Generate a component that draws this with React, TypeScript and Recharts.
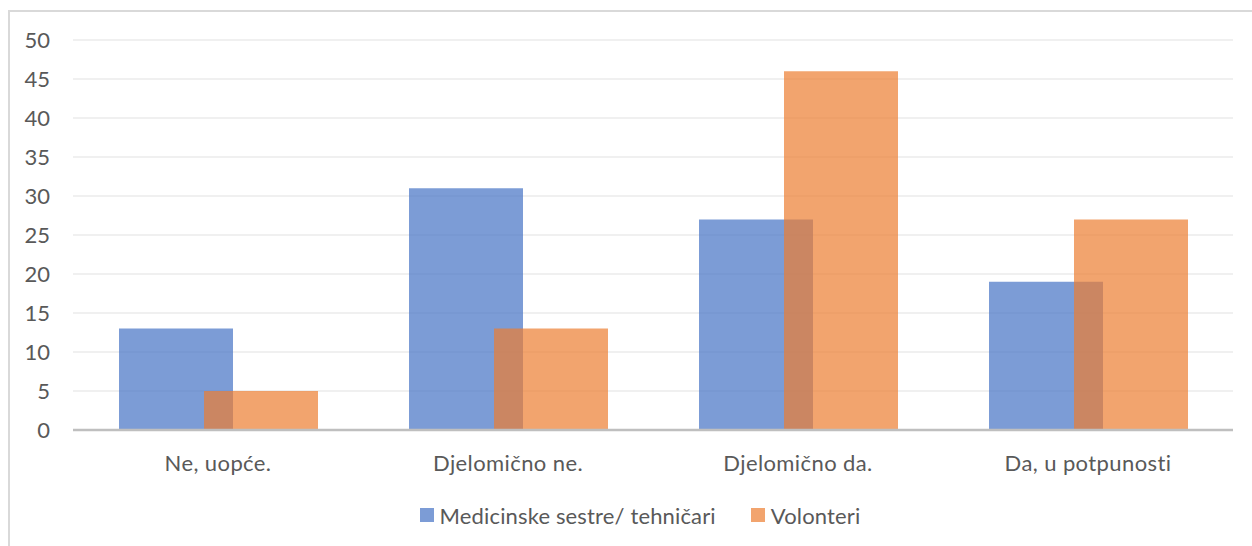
import { BarChart, Bar, XAxis, YAxis, CartesianGrid, Legend } from 'recharts';

const categories = ['Ne, uopće.', 'Djelomično ne.', 'Djelomično da.', 'Da, u potpunosti'];
const nurses = [13, 31, 27, 19];
const volunteers = [5, 13, 46, 27];
const yTicks = [0, 5, 10, 15, 20, 25, 30, 35, 40, 45, 50];

const SERIES = [
  { key: 'nurses', name: 'Medicinske sestre/ tehničari', color: '#4472C4' },
  { key: 'volunteers', name: 'Volonteri', color: '#ED7D31' },
];

const data = categories.map((c, i) => ({
  category: c,
  nurses: nurses[i],
  volunteers: volunteers[i],
}));

const FONT = 'Lato, "Open Sans", sans-serif';
const TEXT = '#595959';
const FS = 22;
const LS = '0.4px';

function LegendContent() {
  return (
    <div style={{ display: 'flex', justifyContent: 'center', alignItems: 'center', gap: '35px', height: '24px', paddingLeft: '28px', fontFamily: FONT, fontSize: `${FS}px`, letterSpacing: '0.15px', color: TEXT }}>
      {SERIES.map((s) => (
        <div key={s.key} style={{ display: 'flex', alignItems: 'center', gap: '6px' }}>
          <span style={{ display: 'inline-block', width: '14px', height: '14px', background: s.color, opacity: 0.7 }} />
          <span>{s.name}</span>
        </div>
      ))}
    </div>
  );
}

export default function App() {
  return (
    <div style={{ position: 'absolute', left: 0, top: 0, width: 1252, height: 546, background: '#fff', overflow: 'hidden' }}>
      <div style={{ position: 'absolute', left: 8, top: 10, width: 1300, height: 600, borderLeft: '2px solid #D9D9D9', borderTop: '2px solid #D9D9D9' }} />
      <div style={{ position: 'absolute', left: 0, top: 0 }}>
        <BarChart
          width={1252}
          height={546}
          data={data}
          margin={{ top: 40, right: 19, left: 0, bottom: 62 }}
          barSize={114}
          barGap={-29}
        >
          <CartesianGrid vertical={false} stroke="#EBEBEB" strokeWidth={1.5} />
          <XAxis
            dataKey="category"
            axisLine={{ stroke: '#BFBFBF', strokeWidth: 2.5 }}
            tickLine={false}
            tickMargin={19}
            tick={{ fill: TEXT, fontSize: FS, fontFamily: FONT, letterSpacing: LS }}
            interval={0}
          />
          <YAxis
            width={73}
            domain={[0, 50]}
            ticks={yTicks}
            axisLine={false}
            tickLine={false}
            tickSize={0}
            tickMargin={23}
            tick={{ fill: TEXT, fontSize: FS, fontFamily: FONT }}
            interval={0}
          />
          <Legend verticalAlign="bottom" content={<LegendContent />} wrapperStyle={{ bottom: 19, left: 0, width: 1252 }} />
          {SERIES.map((s) => (
            <Bar key={s.key} dataKey={s.key} name={s.name} fill={s.color} fillOpacity={0.7} isAnimationActive={false} />
          ))}
        </BarChart>
      </div>
    </div>
  );
}
